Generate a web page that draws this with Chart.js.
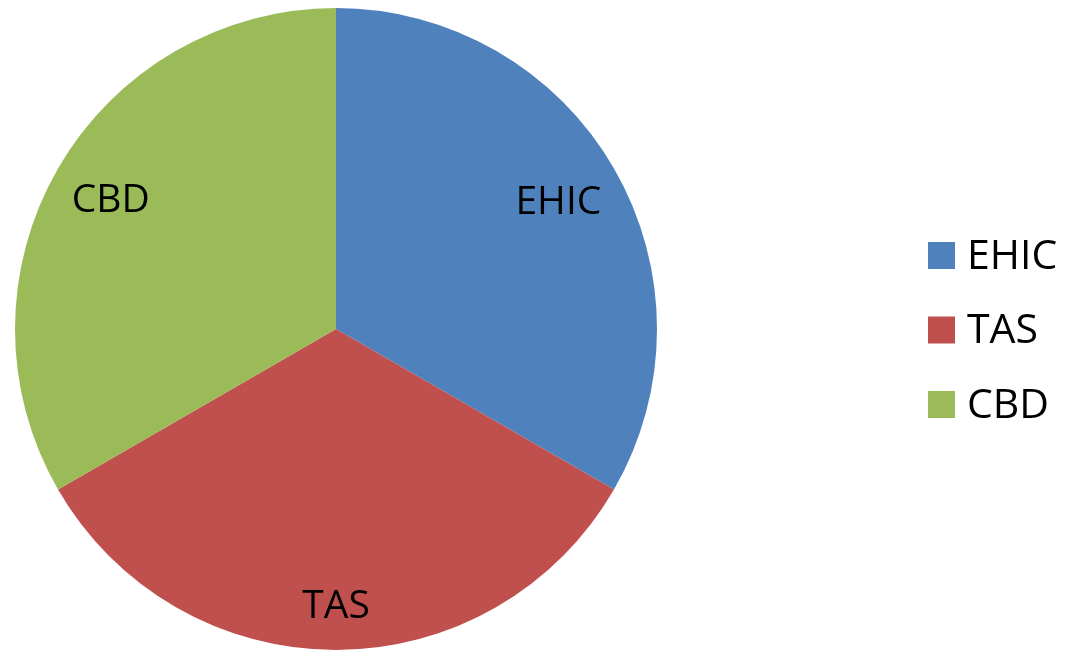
<!DOCTYPE html>
<html>
<head>
<meta charset="utf-8">
<script src="https://cdn.jsdelivr.net/npm/chart.js@4"></script>
<style>
  html, body { margin: 0; padding: 0; background: #fff; }
  #wrap { width: 1067px; height: 650px; }
</style>
</head>
<body>
<div id="wrap"><canvas id="pie"></canvas></div>
<script>
/* ---- data ---- */
const labels = ['EHIC', 'TAS', 'CBD'];
const values = [1, 1, 1];
const colors = ['#4F81BD', '#C0504D', '#9BBB59'];

const FONT = '"Open Sans", sans-serif';

/* slice labels drawn inside each arc */
const sliceLabels = {
  id: 'sliceLabels',
  afterDatasetsDraw(chart) {
    const c = chart.ctx;
    const meta = chart.getDatasetMeta(0);
    const frac = [0.8, 0.86, 0.81];
    c.save();
    c.font = '39px ' + FONT;
    c.fillStyle = '#000';
    c.textAlign = 'center';
    c.textBaseline = 'middle';
    meta.data.forEach((arc, i) => {
      const mid = (arc.startAngle + arc.endAngle) / 2;
      const r = arc.outerRadius * frac[i];
      c.fillText(labels[i], arc.x + Math.cos(mid) * r, arc.y + Math.sin(mid) * r + 2);
    });
    c.restore();
  }
};

/* legend on the right */
const sideLegend = {
  id: 'sideLegend',
  afterDraw(chart) {
    const c = chart.ctx;
    c.save();
    c.font = '41px ' + FONT;
    c.textBaseline = 'middle';
    labels.forEach((lab, i) => {
      const y = 255 + i * 74.5;
      c.fillStyle = colors[i];
      c.fillRect(928, y - 13, 27, 27);
      c.fillStyle = '#000';
      c.fillText(lab, 967, y + 2);
    });
    c.restore();
  }
};

new Chart(document.getElementById('pie'), {
  type: 'pie',
  data: {
    labels: labels,
    datasets: [{
      data: values,
      backgroundColor: colors,
      borderWidth: 0,
    }]
  },
  options: {
    responsive: true, maintainAspectRatio: false,
    animation: false,
    layout: { padding: { left: 15, right: 410, top: 8, bottom: 0 } },
    plugins: { legend: { display: false }, tooltip: { enabled: false } }
  },
  plugins: [sliceLabels, sideLegend]
});
</script>
</body>
</html>
